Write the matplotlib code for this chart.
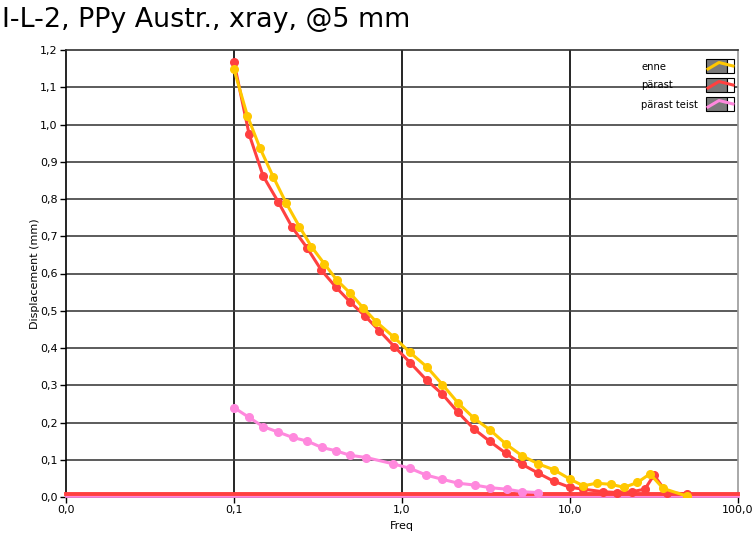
import matplotlib
matplotlib.use('Agg')

import matplotlib.pyplot as plt
from matplotlib.patches import Rectangle
from matplotlib.lines import Line2D
from matplotlib.ticker import FixedLocator, FuncFormatter, NullLocator

# Data
enne_f = [0.1, 0.12, 0.143, 0.171, 0.205, 0.245, 0.289, 0.345, 0.41, 0.492, 0.589, 0.70,
          0.895, 1.116, 1.40, 1.74, 2.16, 2.69, 3.34, 4.16, 5.17, 6.47, 8.03, 10.0,
          12.0, 14.4, 17.5, 21.0, 25.2, 29.9, 35.9, 49.9]
enne_d = [1.148, 1.024, 0.936, 0.860, 0.788, 0.726, 0.672, 0.626, 0.582, 0.547, 0.507, 0.471,
          0.429, 0.388, 0.350, 0.302, 0.252, 0.211, 0.180, 0.142, 0.111, 0.089, 0.073, 0.048,
          0.030, 0.037, 0.034, 0.026, 0.039, 0.062, 0.023, 0.002]

parast_f = [0.1, 0.123, 0.149, 0.184, 0.222, 0.273, 0.331, 0.405, 0.49, 0.602, 0.734, 0.90,
            1.116, 1.40, 1.74, 2.16, 2.69, 3.34, 4.16, 5.17, 6.47, 8.03, 10.0,
            12.0, 15.8, 19.0, 23.3, 27.9, 31.6, 37.6, 50.0]
parast_d = [1.167, 0.974, 0.862, 0.791, 0.724, 0.668, 0.609, 0.563, 0.524, 0.486, 0.446, 0.404,
            0.361, 0.314, 0.276, 0.227, 0.182, 0.149, 0.117, 0.088, 0.064, 0.042, 0.026,
            0.021, 0.014, 0.012, 0.014, 0.021, 0.059, 0.012, 0.008]

teist_f = [0.1, 0.1225, 0.149, 0.184, 0.223, 0.273, 0.333, 0.405, 0.49, 0.612, 0.886,
           1.116, 1.39, 1.72, 2.16, 2.71, 3.34, 4.2, 5.2, 6.47]
teist_d = [0.240, 0.214, 0.189, 0.174, 0.160, 0.150, 0.133, 0.124, 0.112, 0.106, 0.089,
           0.077, 0.059, 0.048, 0.037, 0.032, 0.025, 0.021, 0.014, 0.012]

# flat traces along the bottom of the plot
base_f = [0.01, 100.0]
base_parast = [0.007, 0.007]
base_teist = [0.002, 0.002]

labels = ['enne', 'pärast', 'pärast teist']
colors = ['#FFC800', '#FF4040', '#FF88DD']

x_ticks = [0.01, 0.1, 1.0, 10.0, 100.0]
y_ticks = [0.0, 0.1, 0.2, 0.3, 0.4, 0.5, 0.6, 0.7, 0.8, 0.9, 1.0, 1.1, 1.2]

W, H = 753, 540


def px(x, y):
    # pixel position (from top-left) -> figure fraction
    return x / W, 1 - y / H


def draw_legend(fig):
    # LabVIEW style plot legend: name, then a gray swatch with the line in it
    for i, (lab, c) in enumerate(zip(labels, colors)):
        top = 59 + i * 19
        fig.text(*px(641, top + 7.5), lab, fontsize=7.2, ha='left', va='center')
        x0, y0 = px(706, top + 14)
        fig.add_artist(Rectangle((x0, y0), 21 / W, 14 / H, transform=fig.transFigure,
                                 facecolor='#7a7a7a', edgecolor='black', linewidth=0.8))
        x1, _ = px(727, 0)
        fig.add_artist(Rectangle((x1, y0), 7 / W, 14 / H, transform=fig.transFigure,
                                 facecolor='white', edgecolor='black', linewidth=0.8))
        xs = [px(708, 0)[0], px(719, 0)[0], px(733, 0)[0]]
        ys = [px(0, top + 10)[1], px(0, top + 3.5)[1], px(0, top + 7)[1]]
        fig.add_artist(Line2D(xs, ys, transform=fig.transFigure, color=c, linewidth=2.2))


def main():
    fig = plt.figure(figsize=(W / 100, H / 100), dpi=100)
    ax = fig.add_axes([66 / W, 43 / H, 672 / W, 447 / H])

    ax.plot(base_f, base_teist, color=colors[2], linewidth=2, zorder=3, clip_on=False)
    ax.plot(base_f, base_parast, color=colors[1], linewidth=2.8, zorder=3, clip_on=False)

    for f, d, c in [(teist_f, teist_d, colors[2]), (parast_f, parast_d, colors[1]),
                    (enne_f, enne_d, colors[0])]:
        ax.plot(f, d, color=c, linewidth=2.2, marker='o', markersize=5.5, zorder=4)

    ax.set_xscale('log')
    ax.set_xlim(0.01, 100)
    ax.set_ylim(0, 1.2)
    ax.xaxis.set_major_locator(FixedLocator(x_ticks))
    ax.xaxis.set_minor_locator(NullLocator())
    ax.yaxis.set_major_locator(FixedLocator(y_ticks))
    comma = FuncFormatter(lambda v, p: f"{v:.1f}".replace('.', ','))
    ax.xaxis.set_major_formatter(comma)
    ax.yaxis.set_major_formatter(comma)
    ax.tick_params(labelsize=8, length=4, width=1, pad=2, colors='black')

    for v in x_ticks[1:-1]:
        ax.axvline(v, color='black', linewidth=1.2, zorder=1)
    for v in y_ticks[1:-1]:
        ax.axhline(v, color='#404040', linewidth=1.2, zorder=1)

    ax.spines['left'].set_color('black')
    ax.spines['bottom'].set_color('black')
    ax.spines['top'].set_color('#303030')
    ax.spines['right'].set_color('#9a9a9a')
    for s in ax.spines.values():
        s.set_linewidth(1.2)

    ax.set_xlabel('Freq', fontsize=8, labelpad=4)
    ax.set_ylabel('Displacement (mm)', fontsize=8, labelpad=0)

    draw_legend(fig)

    fig.text(*px(2, 20), 'I-L-2, PPy Austr., xray, @5 mm', fontsize=19.4,
             ha='left', va='center')

    fig.savefig('out.png', dpi=100)


if __name__ == "__main__":
    main()
